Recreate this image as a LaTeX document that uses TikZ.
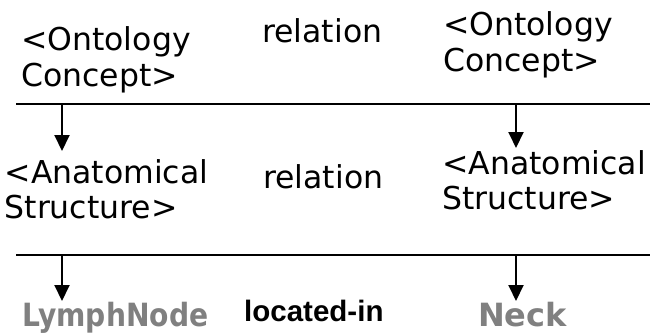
\documentclass[tikz,border=0pt]{standalone}
\usepackage{fontspec}
\setmainfont{DejaVu Sans}
\newfontfamily\relfont{Liberation Sans}
\usetikzlibrary{arrows.meta}

\definecolor{instgray}{HTML}{808080}

% two stacked lines whose baseline is the first line's
\newcommand\twolines[2]{\vtop{\hbox{#1}\hbox{#2}}}

\tikzset{
  concept/.style={anchor=base west, inner sep=0pt,
    font=\fontsize{31.5}{35.5}\selectfont},
  instance/.style={anchor=base west, inner sep=0pt, text=instgray,
    font=\fontsize{32}{36}\selectfont\bfseries},
  relname/.style={anchor=base west, inner sep=0pt,
    font=\relfont\fontsize{29.5}{32}\selectfont\bfseries},
  rule/.style={line width=2pt},
  down/.style={line width=2pt, -{Triangle[length=16pt,width=15pt]}},
}

\begin{document}
\begin{tikzpicture}[x=1pt, y=-1pt]
  \useasboundingbox (0,0) rectangle (650,334);

  % upper level: generic ontology pattern
  \node[concept] (topL) at (21,51) {\twolines{<Ontology}{Concept>}};
  \node[concept] (topRel) at (262,43) {relation};
  \node[concept] (topR) at (443,36) {\twolines{<Ontology}{Concept>}};

  % first separator with its two arrows
  \coordinate (r1a) at (16,104);
  \coordinate (r1b) at (650,104);
  \draw[rule] (r1a) -- (r1b);
  \coordinate (a1s) at (62,104);
  \coordinate (a1e) at (62,151);
  \coordinate (a2s) at (516,104);
  \coordinate (a2e) at (516,148);
  \draw[down] (a1s) -- (a1e);
  \draw[down] (a2s) -- (a2e);

  % middle level: anatomical structures
  \node[concept] (midL) at (4.5,183) {\twolines{<Anatomical}{Structure>}};
  \node[concept] (midRel) at (263,188) {relation};
  \node[concept] (midR) at (442,174) {\twolines{<Anatomical}{Structure>}};

  % second separator with its two arrows
  \coordinate (r2a) at (16,255);
  \coordinate (r2b) at (650,255);
  \draw[rule] (r2a) -- (r2b);
  \coordinate (a3s) at (62,255);
  \coordinate (a3e) at (62,301);
  \coordinate (a4s) at (516,255);
  \coordinate (a4e) at (516,301);
  \draw[down] (a3s) -- (a3e);
  \draw[down] (a4s) -- (a4e);

  % bottom level: concrete instances
  \node[instance, xscale=0.88] (lymph) at (22,326) {LymphNode};
  \node[relname] (locin) at (244,321) {located-in};
  \node[instance] (neck) at (478,326) {Neck};
\end{tikzpicture}
\end{document}
